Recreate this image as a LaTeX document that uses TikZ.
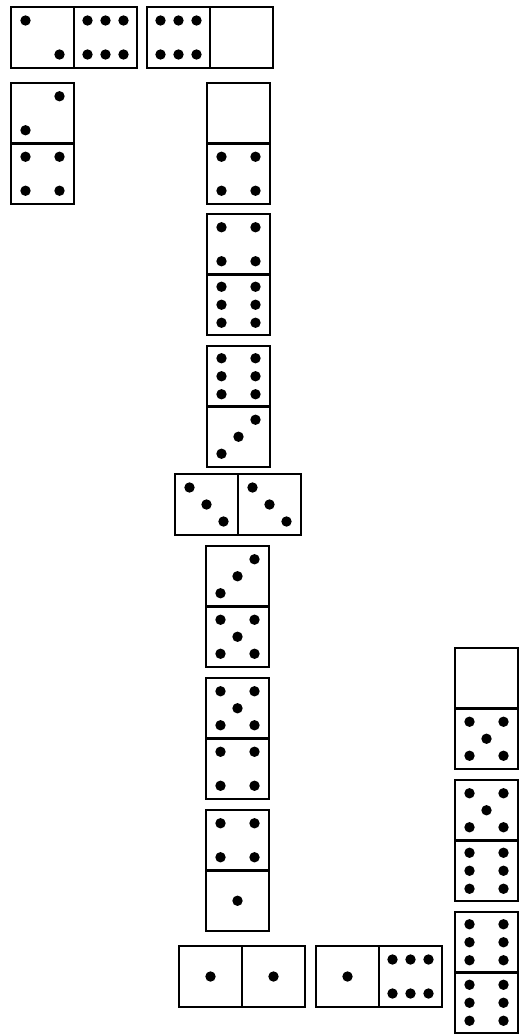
\documentclass[tikz,border=0pt]{standalone}
\usepackage{tikz}
\usetikzlibrary{calc}
\tikzset{
  tile/.style={draw=black, line width=2.3pt, fill=white},
  halfline/.style={draw=black, line width=2.3pt},
  pip/.style={fill=black}
}
% pips of one half, centred at the origin of the current scope
\newcommand{\pipset}[1]{%
  \ifcase#1\relax
  \or \fill[pip] (0,0) circle (5.2);
  \or \fill[pip] (-17,-17) circle (5.2) (17,17) circle (5.2);
  \or \fill[pip] (-17,-17) circle (5.2) (0,0) circle (5.2) (17,17) circle (5.2);
  \or \fill[pip] (-17,-17) circle (5.2) (17,-17) circle (5.2)
        (-17,17) circle (5.2) (17,17) circle (5.2);
  \or \fill[pip] (-17,-17) circle (5.2) (17,-17) circle (5.2) (0,0) circle (5.2)
        (-17,17) circle (5.2) (17,17) circle (5.2);
  \or \fill[pip] (-18,-17) circle (5.2) (0,-17) circle (5.2) (18,-17) circle (5.2)
        (-18,17) circle (5.2) (0,17) circle (5.2) (18,17) circle (5.2);
  \fi}
% lying domino, top left corner at (#1,#2)
\newcommand{\hdomino}[4]{%
  \draw[tile] (#1,#2) rectangle ++(126,61);
  \draw[halfline] (#1+63,#2) -- ++(0,61);
  \begin{scope}[shift={(#1+31.5,#2+30.5)}]\pipset{#3}\end{scope}
  \begin{scope}[shift={(#1+94.5,#2+30.5)}]\pipset{#4}\end{scope}}
% standing domino, top left corner at (#1,#2)
\newcommand{\vdomino}[4]{%
  \draw[tile] (#1,#2) rectangle ++(63,121);
  \draw[halfline] (#1,#2+60.5) -- ++(63,0);
  \begin{scope}[shift={(#1+31.5,#2+30.25)}, rotate=90]\pipset{#3}\end{scope}
  \begin{scope}[shift={(#1+31.5,#2+90.75)}, rotate=90]\pipset{#4}\end{scope}}

\begin{document}
\begin{tikzpicture}[x=1pt, y=-1pt]
  \useasboundingbox (0,0) rectangle (519,1036);

  % top row
  \hdomino{11}{7}{2}{6}
  \hdomino{147}{7}{6}{0}
  \vdomino{11}{83}{2}{4}

  % middle line
  \vdomino{207}{83}{0}{4}
  \vdomino{207}{214}{4}{6}
  \vdomino{207}{346}{6}{3}
  \hdomino{175}{474}{3}{3}
  \vdomino{206}{546}{3}{5}
  \vdomino{206}{678}{5}{4}
  \vdomino{206}{810}{4}{1}

  % bottom row
  \hdomino{179}{946}{1}{1}
  \hdomino{316}{946}{1}{6}

  % right column
  \vdomino{455}{648}{0}{5}
  \vdomino{455}{780}{5}{6}
  \vdomino{455}{912}{6}{6}
\end{tikzpicture}
\end{document}
